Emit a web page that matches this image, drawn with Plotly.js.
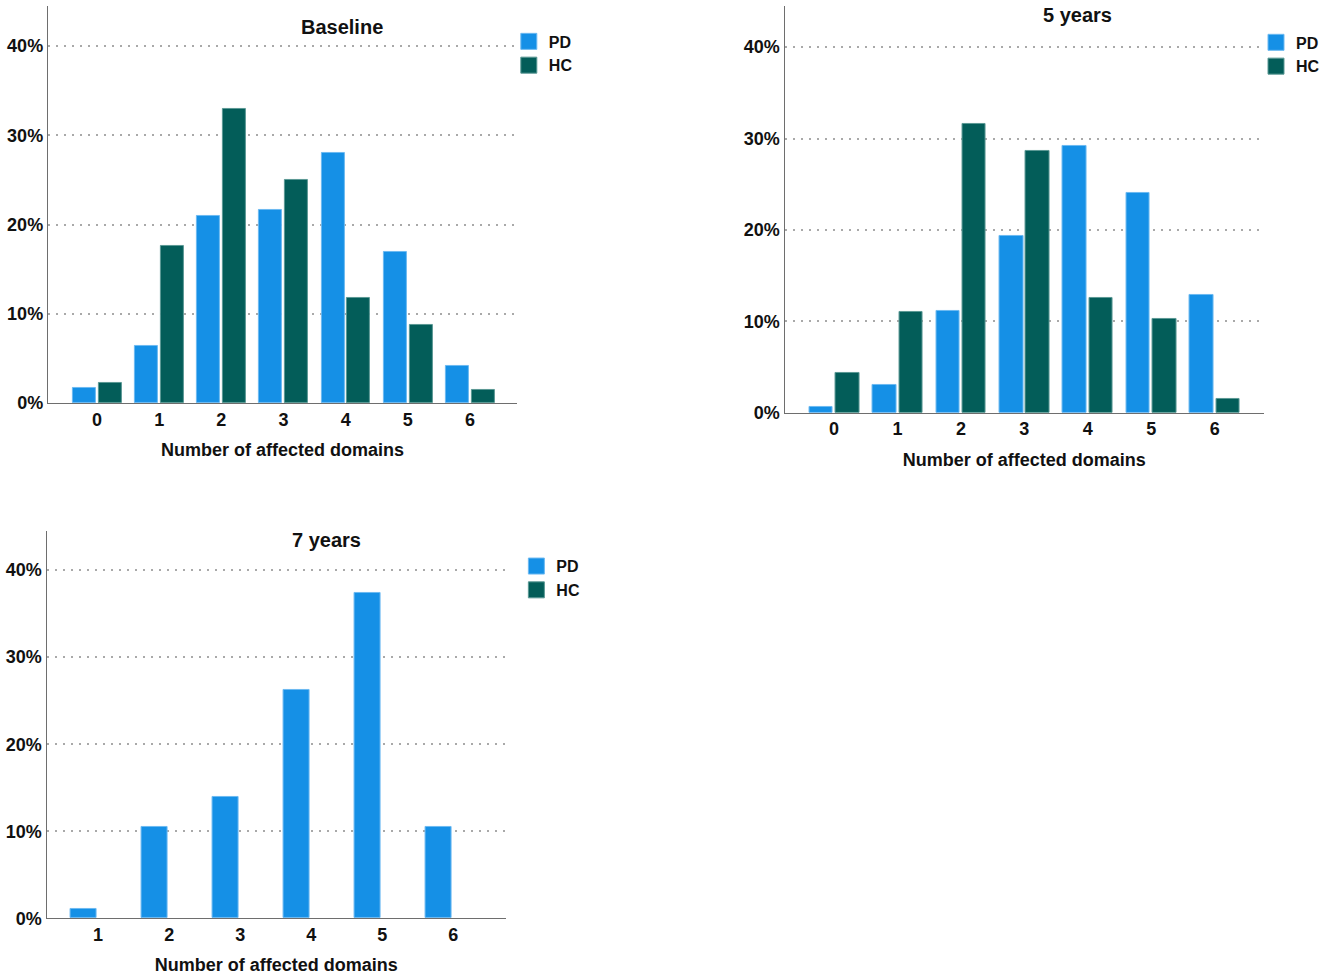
<!DOCTYPE html>
<html>
<head>
<meta charset="utf-8">
<script src="https://cdn.plot.ly/plotly-3.0.1.min.js"></script>
<style>html,body{margin:0;padding:0;background:#fff;}#chart{width:1325px;height:978px;}</style>
</head>
<body>
<div id="chart"></div>
<script>
// ---- data (percent of participants) ----
const domains06 = [0, 1, 2, 3, 4, 5, 6];
const domains16 = [1, 2, 3, 4, 5, 6];
const pdBaseline = [1.7, 6.4, 21.0, 21.6, 28.0, 16.9, 4.1];
const hcBaseline = [2.2, 17.6, 33.0, 25.0, 11.8, 8.8, 1.5];
const pd5y = [0.6, 3.0, 11.1, 19.3, 29.2, 24.0, 12.9];
const hc5y = [4.4, 11.0, 31.6, 28.6, 12.5, 10.3, 1.5];
const pd7y = [1.1, 10.5, 14.0, 26.2, 37.4, 10.5];
const hc7y = [];
const yTicks = [0, 10, 20, 30, 40];
const panelTitles = ['Baseline', '5 years', '7 years'];
const xTitle = 'Number of affected domains';
const seriesNames = ['PD', 'HC'];

const PD_COLOR = '#1590e6', PD_EDGE = '#6cb9f1';
const HC_COLOR = '#035d59', HC_EDGE = '#5a9894';
const FONT = 'Liberation Sans, Arial, sans-serif';

function barTrace(name, x, y, xa, ya, color, edge, offset) {
  return {
    type: 'bar', name: name, x: x, y: y, xaxis: xa, yaxis: ya,
    marker: {color: color, line: {color: edge, width: 1}},
    offset: offset, width: 0.37, showlegend: false, hoverinfo: 'x+y'
  };
}
function legendTrace(name, color, edge, xa, ya, lg) {
  return {
    type: 'scatter', mode: 'markers', name: '<b>' + name + '</b>', x: [null], y: [null],
    xaxis: xa, yaxis: ya, legend: lg,
    marker: {symbol: 'square', size: 16, color: color, line: {color: edge, width: 1}},
    showlegend: true
  };
}

const data = [
  barTrace(seriesNames[0], domains06, pdBaseline, 'x', 'y', PD_COLOR, PD_EDGE, -0.39),
  barTrace(seriesNames[1], domains06, hcBaseline, 'x', 'y', HC_COLOR, HC_EDGE, 0.025),
  barTrace(seriesNames[0], domains06, pd5y, 'x2', 'y2', PD_COLOR, PD_EDGE, -0.39),
  barTrace(seriesNames[1], domains06, hc5y, 'x2', 'y2', HC_COLOR, HC_EDGE, 0.025),
  barTrace(seriesNames[0], domains16, pd7y, 'x3', 'y3', PD_COLOR, PD_EDGE, -0.39),
  barTrace(seriesNames[1], domains16, hc7y, 'x3', 'y3', HC_COLOR, HC_EDGE, 0.025),
  legendTrace(seriesNames[0], PD_COLOR, PD_EDGE, 'x', 'y', 'legend'),
  legendTrace(seriesNames[1], HC_COLOR, HC_EDGE, 'x', 'y', 'legend'),
  legendTrace(seriesNames[0], PD_COLOR, PD_EDGE, 'x2', 'y2', 'legend2'),
  legendTrace(seriesNames[1], HC_COLOR, HC_EDGE, 'x2', 'y2', 'legend2'),
  legendTrace(seriesNames[0], PD_COLOR, PD_EDGE, 'x3', 'y3', 'legend3'),
  legendTrace(seriesNames[1], HC_COLOR, HC_EDGE, 'x3', 'y3', 'legend3')
];

function xAxis(domain, range, vals, anchor) {
  return {
    domain: domain, range: range, anchor: anchor,
    tickvals: vals, ticktext: vals.map(v => '<b>' + v + '</b>'),
    showgrid: false, zeroline: false, showline: true,
    linecolor: '#6e6e6e', linewidth: 1.3, ticks: '',
    tickfont: {family: FONT, size: 18, color: '#111'},
    title: {text: '<b>' + xTitle + '</b>', font: {family: FONT, size: 18, color: '#111'}, standoff: 14},
    fixedrange: true
  };
}
function yAxis(domain, anchor) {
  return {
    domain: domain, range: [0, 44.5], anchor: anchor,
    tickvals: yTicks, ticktext: yTicks.map(v => '<b>' + v + '%</b>'),
    showgrid: true, gridcolor: '#a9a9a9', griddash: '2px,6px', gridwidth: 1.5,
    zeroline: false, showline: true, linecolor: '#6e6e6e', linewidth: 1.3, ticks: '',
    tickfont: {family: FONT, size: 18, color: '#111'},
    fixedrange: true
  };
}

function legendBox(x, y) {
  return {x: x, y: y, xanchor: 'left', yanchor: 'top', bgcolor: 'rgba(0,0,0,0)',
    borderwidth: 0, font: {family: FONT, size: 16, color: '#111'}, tracegroupgap: 0,
    itemclick: false, itemdoubleclick: false};
}

const layout = {
  width: 1325, height: 978,
  margin: {l: 0, r: 0, t: 0, b: 0},
  paper_bgcolor: '#fff', plot_bgcolor: '#fff',
  barmode: 'overlay', bargap: 0,
  font: {family: FONT, color: '#111'},
  xaxis: xAxis([0.0362, 0.391], [-0.79, 6.76], domains06, 'y'),
  yaxis: yAxis([0.5879, 0.9939], 'x'),
  xaxis2: xAxis([0.593, 0.9555], [-0.78, 6.78], domains06, 'y2'),
  yaxis2: yAxis([0.578, 0.9939], 'x2'),
  xaxis3: xAxis([0.0352, 0.3824], [0.275, 6.74], domains16, 'y3'),
  yaxis3: yAxis([0.061, 0.4571], 'x3'),
  legend: legendBox(0.3846, 0.975),
  legend2: legendBox(0.9496, 0.974),
  legend3: legendBox(0.3903, 0.4385),
  annotations: [
    {text: '<b>' + panelTitles[0] + '</b>', x: 0.2586, y: 0.9724, xref: 'paper', yref: 'paper',
     xanchor: 'center', yanchor: 'middle', showarrow: false, font: {family: FONT, size: 20, color: '#111'}},
    {text: '<b>' + panelTitles[1] + '</b>', x: 0.8143, y: 0.9847, xref: 'paper', yref: 'paper',
     xanchor: 'center', yanchor: 'middle', showarrow: false, font: {family: FONT, size: 20, color: '#111'}},
    {text: '<b>' + panelTitles[2] + '</b>', x: 0.2468, y: 0.4479, xref: 'paper', yref: 'paper',
     xanchor: 'center', yanchor: 'middle', showarrow: false, font: {family: FONT, size: 20, color: '#111'}}
  ]
};

Plotly.newPlot('chart', data, layout, {displayModeBar: false, responsive: false});
</script>
</body>
</html>
